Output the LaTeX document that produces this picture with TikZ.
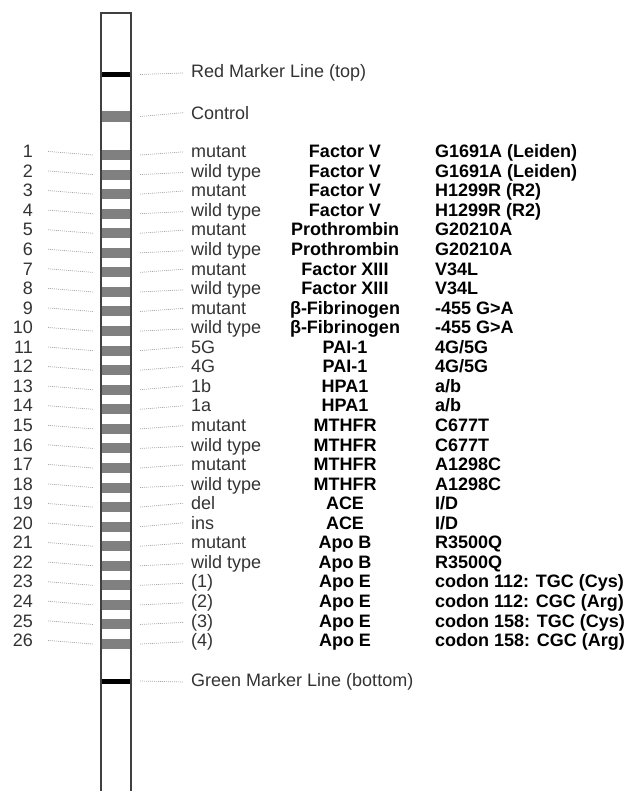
\documentclass[tikz,border=0pt]{standalone}
\usepackage{fontspec}
\setmainfont{Liberation Sans}
\begin{document}
\begin{tikzpicture}[
			x=1pt, y=-1pt,
			every node/.style = {font=\fontsize{18}{20}\selectfont, inner sep=0pt},
			band/.style       = {fill=black!50, minimum width=28pt, minimum height=10pt},
			marker/.style     = {fill=black, minimum width=28pt, minimum height=5pt},
			tick/.style       = {gray!70, line width=0.7pt, dash pattern=on 1pt off 1pt},
			num/.style        = {anchor=mid east, text=black!80},
			lab/.style        = {anchor=mid west, text=black!80},
			gene/.style       = {anchor=mid, font=\fontsize{18}{20}\selectfont\bfseries},
			mut/.style        = {anchor=mid west, font=\fontsize{18}{20}\selectfont\bfseries}
			]
			\useasboundingbox (0,0) rectangle (627,791);
			
			%--- strip ---
			\draw[black!75, line width=2pt] (101,795) -- (101,13) -- (131,13) -- (131,795);
			
			%--- markers and control ---
			\node[marker] (red) at (116,74.5) {};
			\node[lab] (redlab) at (191,75) {Red Marker Line (top)};
			\draw[tick] ([xshift=10pt]red.east) -- ([xshift=-8pt]redlab.west);
			
			\node[band, minimum height=11pt] (ctrl) at (116,116.5) {};
			\node[lab] (ctrllab) at (191,116.5) {Control};
			\draw[tick] ([xshift=10pt]ctrl.east) -- ([xshift=-8pt]ctrllab.west);
			
			\node[marker] (green) at (116,681) {};
			\node[lab] (greenlab) at (191,684) {Green Marker Line (bottom)};
			\draw[tick] ([xshift=10pt]green.east) -- ([xshift=-8pt]greenlab.west);
			
			%--- bands ---
			\foreach \what/\gene/\snp [count=\i] in {
				mutant/Factor V/G1691A (Leiden),
				wild type/Factor V/G1691A (Leiden),
				mutant/Factor V/H1299R (R2),
				wild type/Factor V/H1299R (R2),
				mutant/Prothrombin/G20210A,
				wild type/Prothrombin/G20210A,
				mutant/Factor XIII/V34L,
				wild type/Factor XIII/V34L,
				mutant/β-Fibrinogen/-455 G>A,
				wild type/β-Fibrinogen/-455 G>A,
				5G/PAI-1/{4G/5G},
				4G/PAI-1/{4G/5G},
				1b/HPA1/a{/}b,
				1a/HPA1/a{/}b,
				mutant/MTHFR/C677T,
				wild type/MTHFR/C677T,
				mutant/MTHFR/A1298C,
				wild type/MTHFR/A1298C,
				del/ACE/{I/D},
				ins/ACE/{I/D},
				mutant/Apo B/R3500Q,
				wild type/Apo B/R3500Q,
				(1)/Apo E/codon 112: TGC (Cys),
				(2)/Apo E/codon 112: CGC (Arg),
				(3)/Apo E/codon 158: TGC (Cys),
				(4)/Apo E/codon 158: CGC (Arg)}
			{
				\pgfmathsetmacro{\ypos}{155+(\i-1)*19.56}
				\node[band] (b\i) at (116,\ypos) {};
				\node[num] (n\i) at (33,\ypos) {\i};
				\node[lab] (l\i) at (191,\ypos) {\what};
				\node[gene] (g\i) at (345,\ypos) {\gene};
				\node[mut] (m\i) at (435,\ypos) {\snp};
				\draw[tick] ([xshift=15pt]n\i.east) -- ([xshift=-9pt]b\i.west);
				\draw[tick] ([xshift=10pt]b\i.east) -- ([xshift=-8pt]l\i.west);
			}
		\end{tikzpicture}
\end{document}
